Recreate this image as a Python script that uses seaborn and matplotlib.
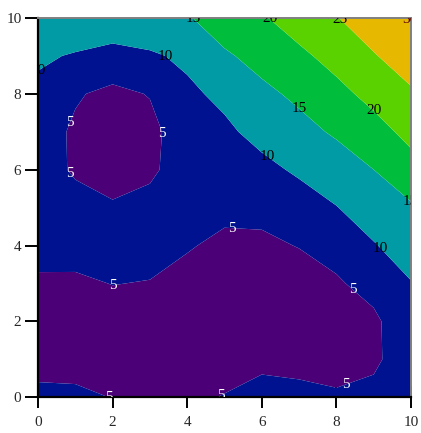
import numpy as np
import matplotlib
matplotlib.use("Agg")
import matplotlib.pyplot as plt
import seaborn as sns

# grid, one row per y value
x_vals = [0, 1, 2, 3, 4, 5, 6, 7, 8, 9, 10]
y_vals = [0, 1, 2, 3, 4, 5, 6, 7, 8, 9, 10]
row_y0 = [5.8, 5.8, 4.9, 4.0, 3.8, 5.3, 6.2, 5.8, 5.3, 6.8, 9.8]
row_y1 = [3.8, 3.5, 3.0, 2.8, 2.5, 2.3, 4.2, 4.1, 4.1, 3.8, 9.0]
row_y2 = [3.6, 3.3, 3.0, 3.0, 2.6, 2.2, 2.8, 3.3, 3.9, 4.0, 8.8]
row_y3 = [4.4, 4.3, 5.1, 4.8, 3.8, 2.8, 3.0, 3.8, 4.4, 6.8, 9.8]
row_y4 = [6.4, 6.6, 6.5, 6.8, 5.3, 4.2, 4.5, 5.1, 6.8, 9.7, 12.3]
row_y5 = [7.0, 6.4, 5.4, 6.2, 6.2, 5.9, 5.7, 7.5, 9.85, 12.4, 14.4]
row_y6 = [6.8, 4.5, 3.5, 4.3, 7.0, 7.2, 8.6, 10.8, 12.7, 15.0, 18.2]
row_y7 = [6.9, 4.4, 3.3, 3.8, 7.5, 9.0, 11.7, 13.6, 15.6, 18.2, 21.4]
row_y8 = [8.6, 5.4, 4.0, 5.2, 9.0, 11.2, 14.0, 15.9, 18.6, 21.5, 24.4]
row_y9 = [10.9, 9.5, 8.0, 9.3, 11.0, 14.4, 16.5, 19.0, 21.7, 24.7, 27.3]
row_y10 = [14.9, 14.5, 14.1, 14.0, 14.6, 17.4, 19.5, 22.3, 24.8, 27.5, 30.2]

levels = [0, 5, 10, 15, 20, 25, 30, 35]
fill_colors = ["#4b0078", "#00128f", "#009ba5", "#00be3c", "#5ad200", "#e6b900", "#e6b900"]
tick_vals = [0, 2, 4, 6, 8, 10]

# where each level gets its number
label_spots = {
    5: [(0.72, 7.3), (3.45, 6.95), (0.87, 5.9), (2.0, 2.95), (5.2, 4.45),
        (8.5, 2.9), (2.05, 0.05), (4.9, 0.05), (8.3, 0.2)],
    10: [(3.4, 8.97), (6.2, 6.4), (9.25, 4.0), (0.05, 8.55)],
    15: [(7.0, 7.6), (9.97, 5.15), (4.15, 9.97)],
    20: [(9.0, 7.55), (6.2, 9.97)],
    25: [(8.1, 9.97)],
    30: [(9.97, 9.97)],
}
label_colors = {5: "white", 10: "black", 15: "black", 20: "black", 25: "black", 30: "#600000"}

sns.set_style("ticks")
plt.rcParams["font.family"] = ["Liberation Serif", "DejaVu Serif"]

Z = np.array([row_y0, row_y1, row_y2, row_y3, row_y4, row_y5, row_y6,
              row_y7, row_y8, row_y9, row_y10])

fig = plt.figure(figsize=(4.21, 4.33), dpi=100)
ax = fig.add_axes([0.0903, 0.0825, 0.886, 0.876])

ax.contourf(x_vals, y_vals, Z, levels=levels, colors=fill_colors, antialiased=True)

# one invisible line set per level, only used to place the numbers
for lev, spots in label_spots.items():
    cs = ax.contour(x_vals, y_vals, Z, levels=[lev], linewidths=0)
    ax.clabel(cs, inline=False, fmt="%d", fontsize=11,
              colors=label_colors[lev], manual=spots)
    for t in cs.labelTexts:
        t.set_rotation(0)
        t.set_clip_on(True)
        t.set_clip_path(ax.patch)

ax.set_xlim(0, 10)
ax.set_ylim(0, 10)
ax.set_xticks(tick_vals)
ax.set_yticks(tick_vals)
ax.tick_params(axis="x", direction="inout", length=16, width=1.4, pad=5.5,
               labelsize=11, color="black")
ax.tick_params(axis="y", direction="out", length=9.5, width=1.4, pad=2.4,
               labelsize=11, color="black")

for side in ["left", "bottom"]:
    ax.spines[side].set_color("black")
    ax.spines[side].set_linewidth(1.6)
for side in ["top", "right"]:
    ax.spines[side].set_visible(True)
    ax.spines[side].set_color("#808080")
    ax.spines[side].set_linewidth(1.4)

fig.savefig("out.png", dpi=100)
